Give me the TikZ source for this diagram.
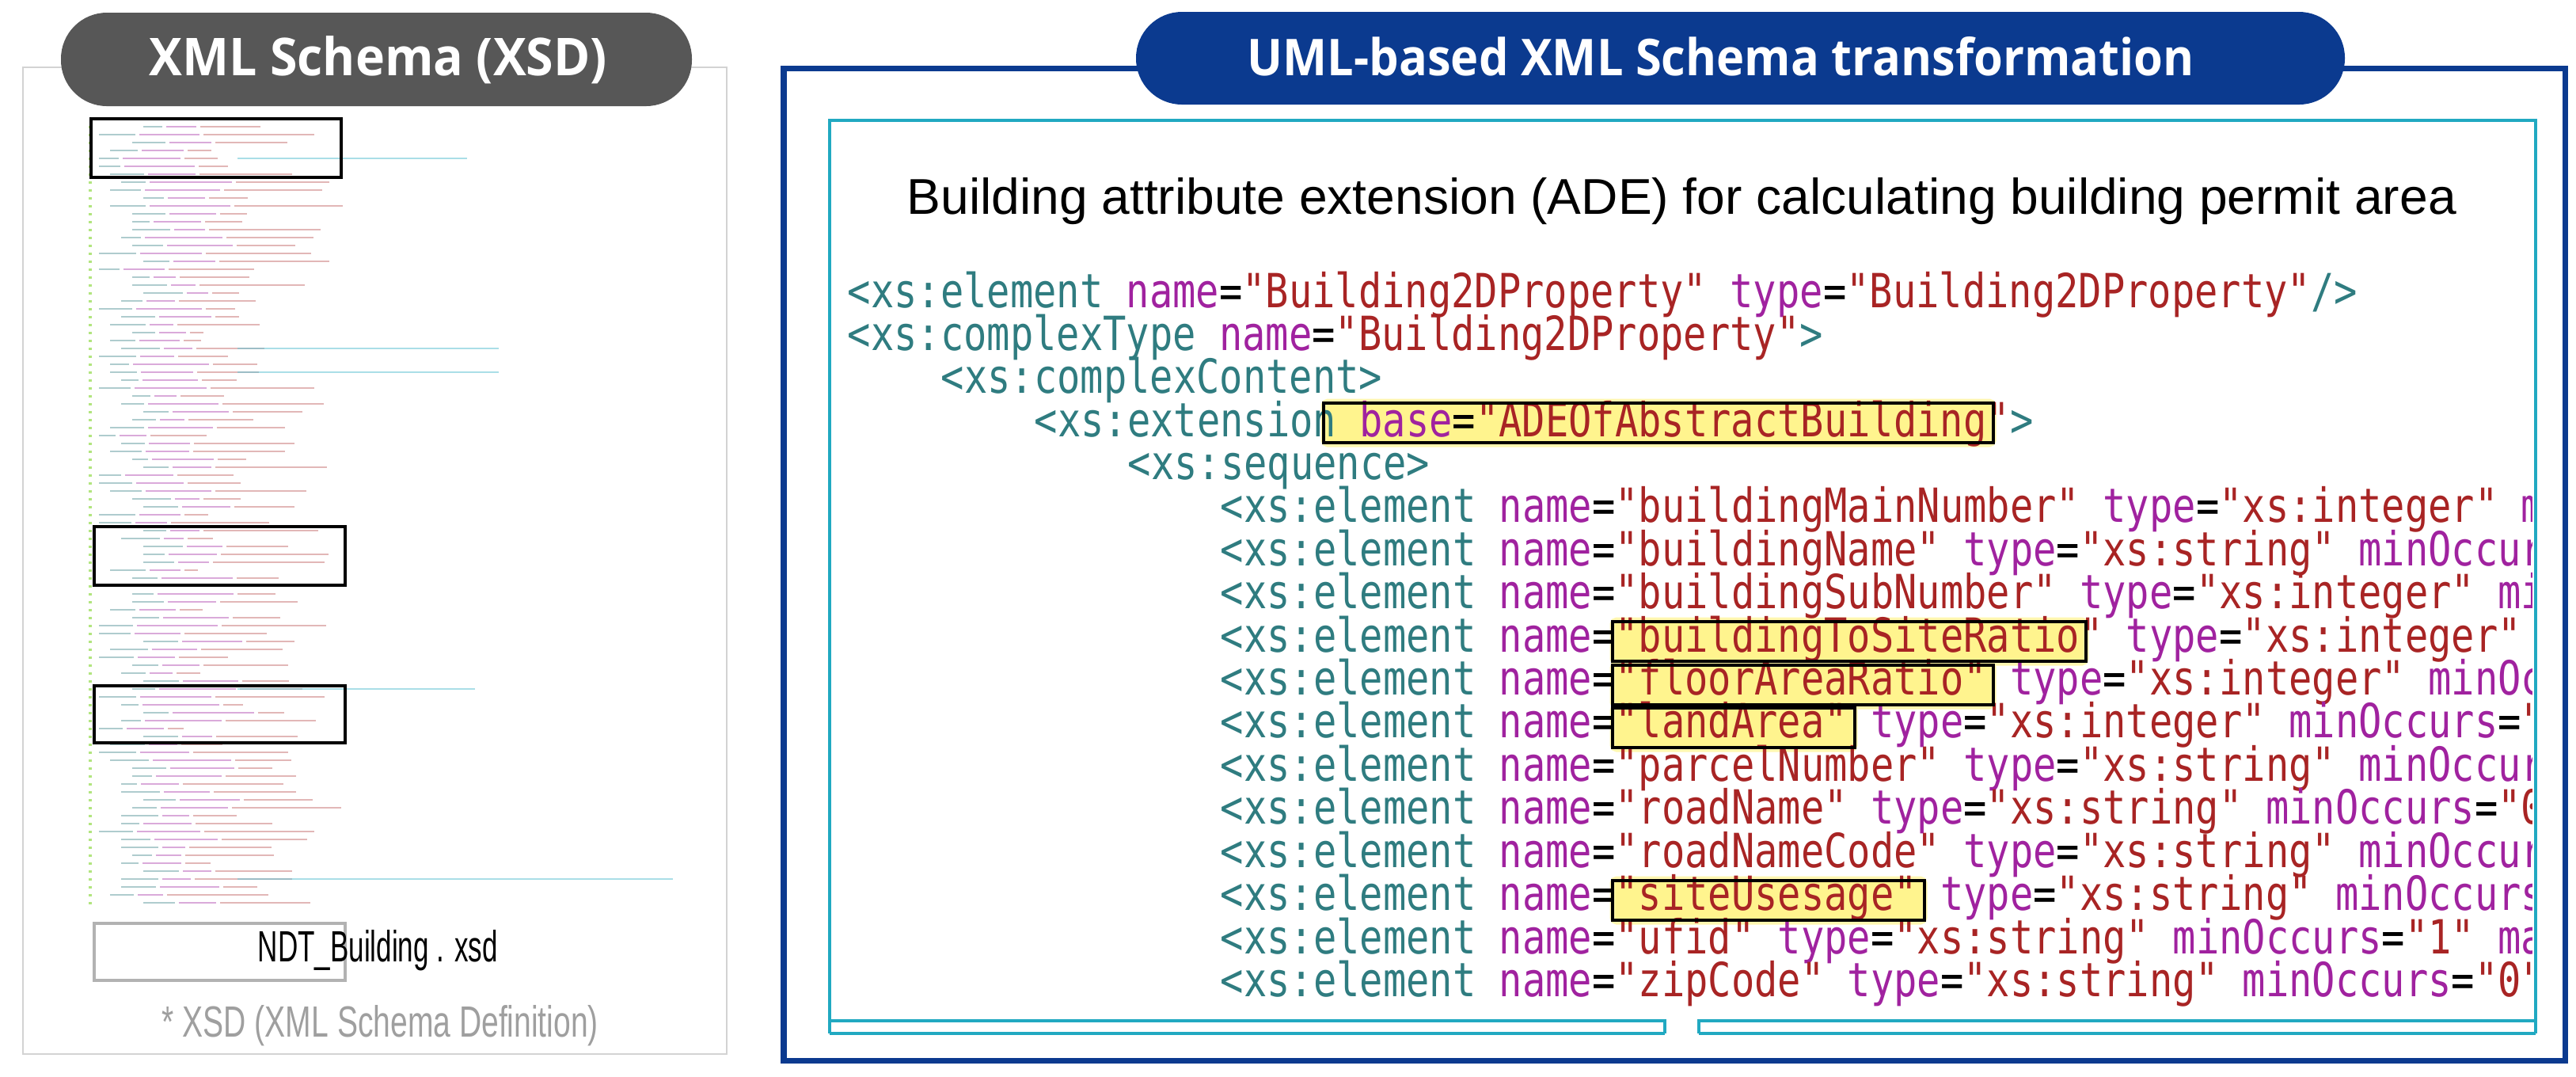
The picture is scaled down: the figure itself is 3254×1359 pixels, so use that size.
\documentclass[tikz,border=0pt]{standalone}
\usepackage{fontspec}
\usepackage{graphicx}
\setmainfont{Liberation Sans}
\newfontfamily\codefont[FakeStretch=0.82]{DejaVu Sans Mono}
\newfontfamily\pillfont{Open Sans}
\definecolor{navy}{HTML}{0B3A8F}
\definecolor{cyanl}{HTML}{21A9C1}
\definecolor{pillgray}{HTML}{575757}
\definecolor{bordergray}{HTML}{D3D3D3}
\definecolor{tagc}{HTML}{2F7C80}
\definecolor{attc}{HTML}{A0229F}
\definecolor{valc}{HTML}{A82424}
\definecolor{hl}{HTML}{FFF27A}
\newcommand\xTg[1]{\textcolor{tagc}{#1}}
\newcommand\xAt[1]{\textcolor{attc}{#1}}
\newcommand\xVl[1]{\textcolor{valc}{#1}}
\newcommand\xEl[3]{\xTg{<xs:element} \xAt{name}=\xVl{"#1"} \xAt{type}=\xVl{"#2"} \xAt{minOccurs}=\xVl{"#3"} \xAt{maxOccurs}=\xVl{"1"}\xTg{/>}}
\begin{document}
\begin{tikzpicture}[x=0.01cm,y=-0.01cm,
  code/.style={anchor=base west,inner sep=0pt,font=\codefont\fontsize{16.9}{18}\selectfont},
  hlglow/.style={fill=hl,draw=hl!70,line width=2pt,rounded corners=1.5pt,opacity=0.85},
  hlbox/.style={draw=black,line width=0.9pt},
  pill/.style={rounded corners=0.58cm},
  thumb/.style={line width=0.65pt,opacity=0.55}]
\useasboundingbox (0,0) rectangle (3254,1359);
% ---------------- left panel ----------------
\draw[bordergray,line width=0.8pt] (29,85) rectangle (918,1331);
\fill[pillgray,pill] (77,16) rectangle (874,134);
\node[anchor=base west,inner sep=0pt,text=white] (lt) at (188,95)
  {\resizebox{5.78cm}{0.50cm}{\pillfont\bfseries XML Schema (XSD)}};
% thumbnail code
\pgfmathsetseed{7}
\foreach \i in {0,...,98}{
  \pgfmathsetmacro{\yy}{160+10*\i}
  \pgfmathsetmacro{\ind}{125+14*int(rnd*5)}
  \pgfmathsetmacro{\la}{\ind+20+rnd*30}
  \pgfmathsetmacro{\lb}{\la+30+rnd*80}
  \pgfmathsetmacro{\lc}{\lb+20+rnd*130}
  \fill[green!60!orange,opacity=0.5] (112,\yy-1.5) rectangle (116,\yy+1.5);
  \draw[thumb,tagc!70] (\ind,\yy) -- (\la,\yy);
  \draw[thumb,attc!70] (\la+5,\yy) -- (\lb,\yy);
  \draw[thumb,valc!60] (\lb+5,\yy) -- (\lc,\yy);
}
\foreach \yy/\e in {200/590,440/630,470/630,870/600,1110/850}{
  \draw[thumb,cyanl!70] (300,\yy) -- (\e,\yy);}
\draw[black,line width=1.1pt] (115,150) rectangle (431,224);
\draw[black,line width=1.1pt] (119,665) rectangle (436,739);
\draw[black,line width=1.1pt] (119,866) rectangle (436,938);
\fill[white,opacity=0.6] (112,1150) rectangle (900,1250);
\draw[gray!60,line width=1.1pt] (119,1166) rectangle (436,1238);
\node[anchor=base west,inner sep=0pt] (ndt) at (325,1214)
  {\resizebox{3.03cm}{0.40cm}{NDT\_Building . xsd}};
\node[anchor=base west,inner sep=0pt,text=gray!75] (fn) at (204,1309)
  {\resizebox{5.51cm}{0.40cm}{* XSD (XML Schema Definition)}};
% ---------------- right panel ----------------
\draw[navy,line width=2pt] (990,86) rectangle (3240,1339);
\fill[navy,pill] (1435,15) rectangle (2962,132);
\node[anchor=base west,inner sep=0pt,text=white] (rt) at (1575,95)
  {\resizebox{11.95cm}{0.49cm}{\pillfont\bfseries UML-based XML Schema transformation}};
\draw[cyanl,line width=1.1pt] (1048,1305) -- (1048,152) -- (3203,152) -- (3203,1305);
\draw[cyanl,line width=0.9pt] (1048,1289) -- (2103,1289) -- (2103,1305) (1048,1305) -- (2103,1305);
\draw[cyanl,line width=0.9pt] (3203,1289) -- (2146,1289) -- (2146,1305) (3203,1305) -- (2146,1305);
\node[anchor=base west,inner sep=0pt] (ttl) at (1145,270)
  {\resizebox{19.56cm}{0.46cm}{Building attribute extension (ADE) for calculating building permit area}};
% highlight glows
\fill[hlglow] (1672,507) rectangle (2518,561);
\fill[hlglow] (2037,783) rectangle (2635,837);
\fill[hlglow] (2037,838) rectangle (2518,892);
\fill[hlglow] (2037,892) rectangle (2343,946);
\fill[hlglow] (2037,1110) rectangle (2431,1164);
% code
\begin{scope}
\clip (1052,160) rectangle (3198,1285);
\node[code] (c0) at (1070,388) {\xTg{<xs:element} \xAt{name}=\xVl{"Building2DProperty"} \xAt{type}=\xVl{"Building2DProperty"}\xTg{/>}};
\node[code] (c1) at (1070,442) {\xTg{<xs:complexType} \xAt{name}=\xVl{"Building2DProperty"}\xTg{>}};
\node[code] (c2) at (1188,496) {\xTg{<xs:complexContent>}};
\node[code] (c3) at (1306,551) {\xTg{<xs:extension} \xAt{base}=\xVl{"ADEOfAbstractBuilding"}\xTg{>}};
\node[code] (c4) at (1424,605) {\xTg{<xs:sequence>}};
\node[code] (c5) at (1541,659) {\xEl{buildingMainNumber}{xs:integer}{0}};
\node[code] (c6) at (1541,714) {\xEl{buildingName}{xs:string}{0}};
\node[code] (c7) at (1541,768) {\xEl{buildingSubNumber}{xs:integer}{0}};
\node[code] (c8) at (1541,823) {\xEl{buildingToSiteRatio}{xs:integer}{0}};
\node[code] (c9) at (1541,877) {\xEl{floorAreaRatio}{xs:integer}{0}};
\node[code] (c10) at (1541,931) {\xEl{landArea}{xs:integer}{0}};
\node[code] (c11) at (1541,986) {\xEl{parcelNumber}{xs:string}{0}};
\node[code] (c12) at (1541,1040) {\xEl{roadName}{xs:string}{0}};
\node[code] (c13) at (1541,1095) {\xEl{roadNameCode}{xs:string}{0}};
\node[code] (c14) at (1541,1149) {\xEl{siteUsesage}{xs:string}{0}};
\node[code] (c15) at (1541,1204) {\xTg{<xs:element} \xAt{name}=\xVl{"ufid"} \xAt{type}=\xVl{"xs:string"} \xAt{minOccurs}=\xVl{"1"} \xAt{maxOccurs}=\xVl{"1"}\xTg{/>}};
\node[code] (c16) at (1541,1258) {\xEl{zipCode}{xs:string}{0}};
\end{scope}
% highlight boxes
\draw[hlbox] (1672,509) rectangle (2518,559);
\draw[hlbox] (2037,785) rectangle (2635,835);
\draw[hlbox] (2037,840) rectangle (2518,890);
\draw[hlbox] (2037,894) rectangle (2343,944);
\draw[hlbox] (2037,1112) rectangle (2431,1162);
\end{tikzpicture}
\end{document}
